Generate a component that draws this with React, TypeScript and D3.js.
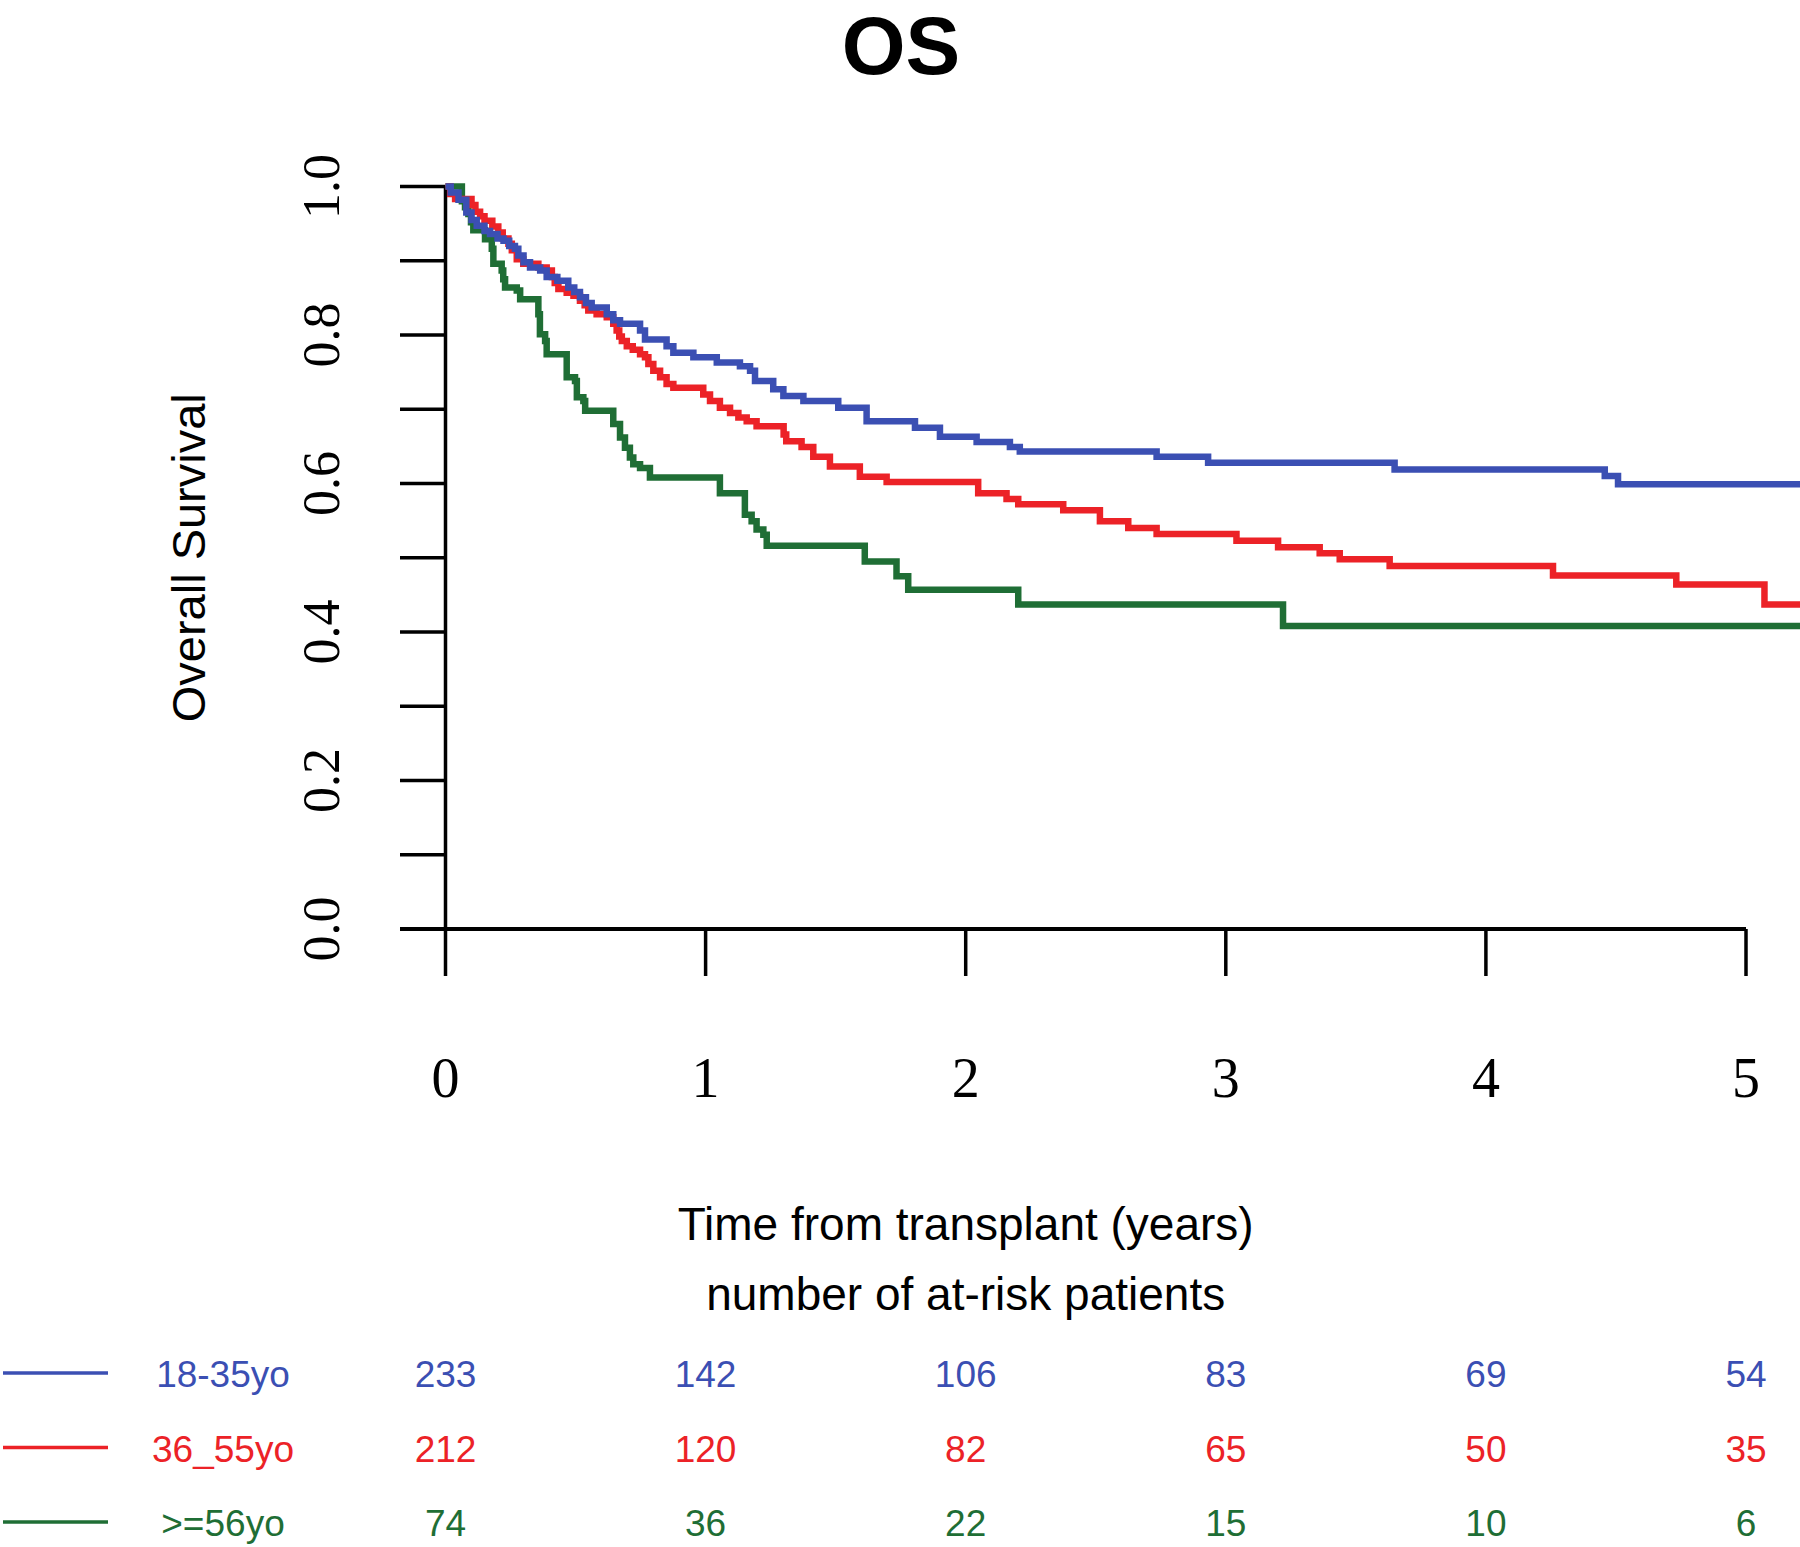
import React, { useEffect, useRef } from 'react';
import * as d3 from 'd3';

// Groups and colours
const groups = ['18-35yo', '36_55yo', '>=56yo'];
const colors = ['#3b4fb3', '#ec2227', '#1f6e35'];

// Kaplan-Meier steps: time (years) of each drop and survival after it
const blueTimes = [0.02, 0.05, 0.08, 0.10, 0.12, 0.15, 0.171, 0.20, 0.223, 0.245, 0.267, 0.28, 0.30, 0.325, 0.364, 0.389, 0.43, 0.472, 0.495, 0.517, 0.54, 0.562, 0.62, 0.645, 0.671, 0.748, 0.767, 0.85, 0.876, 0.953, 1.043, 1.132, 1.171, 1.19, 1.26, 1.299, 1.376, 1.51, 1.619, 1.805, 1.901, 2.042, 2.17, 2.208, 2.734, 2.932, 3.649, 4.457, 4.508];
const blueSurv = [0.992, 0.982, 0.965, 0.955, 0.947, 0.94, 0.936, 0.93, 0.927, 0.92, 0.916, 0.907, 0.898, 0.891, 0.887, 0.878, 0.873, 0.864, 0.858, 0.851, 0.843, 0.837, 0.828, 0.82, 0.815, 0.806, 0.794, 0.785, 0.776, 0.77, 0.763, 0.758, 0.752, 0.738, 0.727, 0.718, 0.711, 0.702, 0.684, 0.675, 0.663, 0.656, 0.649, 0.643, 0.636, 0.628, 0.619, 0.61, 0.599];

const redTimes = [0.018, 0.037, 0.10, 0.115, 0.133, 0.15, 0.18, 0.203, 0.22, 0.242, 0.255, 0.274, 0.299, 0.357, 0.389, 0.409, 0.42, 0.434, 0.466, 0.492, 0.517, 0.535, 0.549, 0.581, 0.62, 0.645, 0.658, 0.668, 0.678, 0.697, 0.72, 0.748, 0.767, 0.78, 0.799, 0.825, 0.85, 0.876, 0.991, 1.017, 1.055, 1.094, 1.126, 1.158, 1.196, 1.30, 1.31, 1.369, 1.414, 1.478, 1.593, 1.696, 2.048, 2.157, 2.202, 2.375, 2.516, 2.625, 2.734, 3.041, 3.201, 3.361, 3.438, 3.63, 4.258, 4.732, 5.071];
const redSurv = [0.99, 0.983, 0.975, 0.966, 0.96, 0.954, 0.946, 0.938, 0.93, 0.923, 0.914, 0.902, 0.896, 0.891, 0.887, 0.878, 0.87, 0.862, 0.857, 0.853, 0.846, 0.84, 0.833, 0.828, 0.824, 0.815, 0.806, 0.798, 0.792, 0.785, 0.78, 0.774, 0.77, 0.761, 0.752, 0.743, 0.734, 0.729, 0.72, 0.711, 0.702, 0.695, 0.689, 0.684, 0.677, 0.666, 0.657, 0.649, 0.636, 0.623, 0.609, 0.602, 0.587, 0.579, 0.572, 0.564, 0.549, 0.54, 0.532, 0.523, 0.514, 0.506, 0.498, 0.489, 0.476, 0.464, 0.437];

const greenTimes = [0.063, 0.075, 0.088, 0.098, 0.107, 0.152, 0.178, 0.184, 0.216, 0.222, 0.229, 0.274, 0.287, 0.357, 0.363, 0.383, 0.389, 0.466, 0.498, 0.505, 0.53, 0.537, 0.645, 0.671, 0.69, 0.709, 0.722, 0.748, 0.786, 1.055, 1.151, 1.177, 1.196, 1.222, 1.235, 1.612, 1.734, 1.779, 2.202, 3.22];
const greenSurv = [0.98, 0.972, 0.963, 0.952, 0.941, 0.929, 0.916, 0.896, 0.887, 0.875, 0.864, 0.86, 0.848, 0.828, 0.801, 0.792, 0.774, 0.743, 0.738, 0.716, 0.711, 0.698, 0.68, 0.662, 0.648, 0.635, 0.626, 0.621, 0.608, 0.587, 0.558, 0.549, 0.538, 0.531, 0.516, 0.495, 0.475, 0.457, 0.437, 0.408];

// Number at risk at each year
const yearTicks = [0, 1, 2, 3, 4, 5];
const atRiskBlue = [233, 142, 106, 83, 69, 54];
const atRiskRed = [212, 120, 82, 65, 50, 35];
const atRiskGreen = [74, 36, 22, 15, 10, 6];

const App: React.FC = () => {
  const svgRef = useRef<SVGSVGElement | null>(null);

  useEffect(() => {
    if (!svgRef.current) return;
    document.body.style.margin = '0';

    const width = 1800;
    const height = 1547;
    const tEnd = 5.25; // curves run off the right edge

    const svg = d3.select(svgRef.current);
    svg.selectAll('*').remove();
    svg.attr('width', width).attr('height', height);

    const x = d3.scaleLinear().domain([0, 5]).range([445.5, 1746]);
    const y = d3.scaleLinear().domain([0, 1]).range([929, 186.5]);

    const sans = '"Liberation Sans", Arial, sans-serif';
    const serif = '"Liberation Serif", "Times New Roman", serif';

    // Title
    svg.append('text')
      .attr('x', 901)
      .attr('y', 74)
      .attr('text-anchor', 'middle')
      .style('font-family', sans)
      .style('font-weight', 'bold')
      .style('font-size', '82px')
      .text('OS');

    // Y axis
    const axisG = svg.append('g').attr('stroke', '#000').attr('stroke-width', 3.5);
    axisG.append('line')
      .attr('x1', x(0)).attr('x2', x(0))
      .attr('y1', y(1)).attr('y2', y(0));
    axisG.selectAll('.ytick')
      .data(d3.range(0, 11).map(i => i / 10))
      .enter()
      .append('line')
      .attr('x1', 400).attr('x2', x(0))
      .attr('y1', d => y(d)).attr('y2', d => y(d));

    svg.selectAll('.ylabel')
      .data([0, 0.2, 0.4, 0.6, 0.8, 1.0])
      .enter()
      .append('text')
      .attr('transform', d => `translate(339, ${y(d)}) rotate(-90)`)
      .attr('text-anchor', 'middle')
      .style('font-family', serif)
      .style('font-size', '52px')
      .text(d => d3.format('.1f')(d));

    svg.append('text')
      .attr('transform', `translate(205, ${(y(0) + y(1)) / 2}) rotate(-90)`)
      .attr('text-anchor', 'middle')
      .style('font-family', sans)
      .style('font-size', '47px')
      .text('Overall Survival');

    // X axis
    axisG.append('line')
      .attr('x1', 400).attr('x2', x(5))
      .attr('y1', y(0)).attr('y2', y(0))
      .attr('stroke-width', 4);
    axisG.selectAll('.xtick')
      .data(yearTicks)
      .enter()
      .append('line')
      .attr('x1', d => x(d)).attr('x2', d => x(d))
      .attr('y1', y(0)).attr('y2', 976);

    svg.selectAll('.xlabel')
      .data(yearTicks)
      .enter()
      .append('text')
      .attr('x', d => x(d))
      .attr('y', 1097)
      .attr('text-anchor', 'middle')
      .style('font-family', serif)
      .style('font-size', '56px')
      .text(d => String(d));

    svg.append('text')
      .attr('x', x(2))
      .attr('y', 1240)
      .attr('text-anchor', 'middle')
      .style('font-family', sans)
      .style('font-size', '46px')
      .text('Time from transplant (years)');

    svg.append('text')
      .attr('x', x(2))
      .attr('y', 1310)
      .attr('text-anchor', 'middle')
      .style('font-family', sans)
      .style('font-size', '46px')
      .text('number of at-risk patients');

    // Survival curves
    const series = [
      { times: blueTimes, surv: blueSurv },
      { times: redTimes, surv: redSurv },
      { times: greenTimes, surv: greenSurv },
    ];
    const line = d3.line<[number, number]>()
      .x(d => x(d[0]))
      .y(d => y(d[1]))
      .curve(d3.curveStepAfter);

    // draw green first, blue on top like the reference
    [2, 1, 0].forEach(i => {
      const s = series[i];
      const pts: [number, number][] = [[0, 1]];
      s.times.forEach((t, j) => pts.push([t, s.surv[j]]));
      pts.push([tEnd, s.surv[s.surv.length - 1]]);
      svg.append('path')
        .attr('d', line(pts) as string)
        .attr('fill', 'none')
        .attr('stroke', colors[i])
        .attr('stroke-width', 6.5)
        .attr('stroke-linejoin', 'miter');
    });

    // At-risk table with legend
    const atRisk = [atRiskBlue, atRiskRed, atRiskGreen];
    groups.forEach((g, i) => {
      const base = 1387 + i * 74.5;
      svg.append('line')
        .attr('x1', 3).attr('x2', 108)
        .attr('y1', base - 14).attr('y2', base - 14)
        .attr('stroke', colors[i])
        .attr('stroke-width', 3.5);
      svg.append('text')
        .attr('x', 223)
        .attr('y', base)
        .attr('text-anchor', 'middle')
        .attr('fill', colors[i])
        .style('font-family', sans)
        .style('font-size', '37px')
        .text(g);
      svg.selectAll(`.risk${i}`)
        .data(atRisk[i])
        .enter()
        .append('text')
        .attr('x', (d, j) => x(yearTicks[j]))
        .attr('y', base)
        .attr('text-anchor', 'middle')
        .attr('fill', colors[i])
        .style('font-family', sans)
        .style('font-size', '37px')
        .text(d => String(d));
    });
  }, []);

  return <svg ref={svgRef} style={{ display: 'block' }}></svg>;
};

export default App;
